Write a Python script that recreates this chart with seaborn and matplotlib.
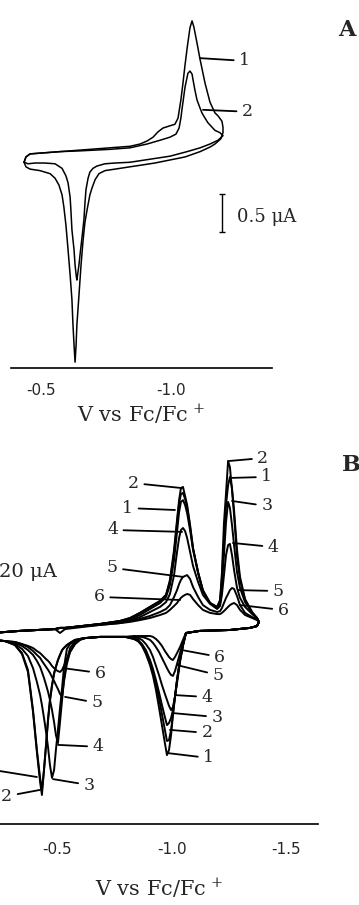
import matplotlib
matplotlib.use("Agg")
import matplotlib.pyplot as plt
import seaborn as sns

# ---------------- panel A : two scans (potential V vs Fc/Fc+, current uA) ----------------
a1_fwd_v = [-0.435, -0.442, -0.458, -0.496, -0.573, -0.650, -0.765, -0.842, -0.881, -0.908,
            -0.931, -0.950, -0.969, -0.996, -1.015, -1.027, -1.038, -1.046, -1.054, -1.062,
            -1.073, -1.081, -1.088, -1.100, -1.112, -1.131, -1.150, -1.169, -1.181, -1.196,
            -1.200, -1.200]
a1_fwd_i = [-0.03, 0.04, 0.08, 0.09, 0.11, 0.13, 0.16, 0.18, 0.21, 0.25,
            0.30, 0.37, 0.42, 0.45, 0.47, 0.55, 0.79, 1.01, 1.25, 1.47,
            1.74, 1.83, 1.75, 1.54, 1.32, 1.01, 0.76, 0.62, 0.58, 0.51,
            0.43, 0.36]
a1_rev_v = [-1.192, -1.169, -1.150, -1.112, -1.054, -0.996, -0.938, -0.881, -0.842, -0.785,
            -0.746, -0.723, -0.708, -0.696, -0.688, -0.677, -0.669, -0.662, -0.654, -0.646,
            -0.638, -0.635, -0.631, -0.627, -0.623, -0.619, -0.612, -0.604, -0.596, -0.588,
            -0.581, -0.569, -0.554, -0.535, -0.496, -0.458, -0.442, -0.435]
a1_rev_i = [0.28, 0.21, 0.17, 0.11, 0.04, 0.00, -0.04, -0.07, -0.09, -0.12,
            -0.14, -0.18, -0.26, -0.37, -0.46, -0.66, -0.82, -1.05, -1.38, -1.78,
            -2.17, -2.43, -2.66, -2.43, -2.17, -1.84, -1.51, -1.18, -0.86, -0.62,
            -0.46, -0.33, -0.24, -0.18, -0.14, -0.12, -0.09, -0.03]

a2_fwd_v = [-0.435, -0.442, -0.458, -0.496, -0.573, -0.650, -0.765, -0.842, -0.908, -0.958,
            -0.996, -1.019, -1.031, -1.038, -1.042, -1.050, -1.054, -1.062, -1.065, -1.073,
            -1.081, -1.085, -1.092, -1.100, -1.112, -1.119, -1.131, -1.142, -1.169, -1.188,
            -1.200]
a2_fwd_i = [-0.03, 0.04, 0.08, 0.09, 0.11, 0.12, 0.14, 0.16, 0.21, 0.26,
            0.30, 0.34, 0.42, 0.55, 0.66, 0.86, 0.96, 1.09, 1.14, 1.17,
            1.13, 1.05, 0.92, 0.79, 0.68, 0.62, 0.55, 0.49, 0.39, 0.36,
            0.32]
a2_rev_v = [-1.181, -1.150, -1.112, -1.062, -0.996, -0.919, -0.842, -0.785, -0.746, -0.715,
            -0.700, -0.688, -0.681, -0.673, -0.669, -0.665, -0.658, -0.650, -0.646, -0.638,
            -0.635, -0.631, -0.627, -0.619, -0.615, -0.612, -0.604, -0.596, -0.581, -0.554,
            -0.515, -0.477, -0.450, -0.435]
a2_rev_i = [0.26, 0.21, 0.16, 0.11, 0.05, 0.01, -0.03, -0.04, -0.05, -0.08,
            -0.11, -0.16, -0.24, -0.39, -0.57, -0.79, -1.01, -1.25, -1.38, -1.58,
            -1.51, -1.38, -1.18, -0.92, -0.66, -0.49, -0.30, -0.21, -0.11, -0.05,
            -0.04, -0.04, -0.05, -0.03]
a_scale = 0.5   # uA

# ---------------- panel B : scans 1-6 ----------------
b_fwd_v = [-0.214, -0.336, -0.489, -0.511, -0.533, -0.686, -0.773, -0.817, -0.860, -0.904,
           -0.948, -0.974, -0.991, -1.009, -1.022, -1.031, -1.039, -1.048, -1.057, -1.066,
           -1.079, -1.092, -1.114, -1.135, -1.166, -1.197, -1.210, -1.218, -1.227, -1.236,
           -1.245, -1.253, -1.262, -1.271, -1.284, -1.297, -1.319, -1.350, -1.371, -1.380]
b_rev_v = [-1.371, -1.341, -1.253, -1.122, -1.061, -1.048, -1.035, -1.022, -1.013, -1.004,
           -0.996, -0.987, -0.978, -0.969, -0.956, -0.943, -0.930, -0.917, -0.904, -0.886,
           -0.869, -0.852, -0.834, -0.795, -0.686, -0.620, -0.598, -0.576, -0.555, -0.541,
           -0.528, -0.520, -0.511, -0.502, -0.493, -0.485, -0.476, -0.467, -0.459, -0.450,
           -0.441, -0.432, -0.424, -0.410, -0.393, -0.371, -0.345, -0.314, -0.271, -0.214]

b1_fwd = [-1.0, -0.3, 0.3, 0.7, 0.7, 2.0, 3.0, 4.0, 5.7, 7.7,
          9.7, 11.7, 16.0, 25.7, 35.7, 42.3, 45.3, 45.7, 43.7, 41.0,
          34.3, 27.0, 19.0, 13.0, 9.0, 7.7, 9.7, 17.3, 30.0, 41.7,
          48.3, 51.0, 47.3, 40.0, 26.7, 17.7, 10.3, 6.0, 4.0, 2.7]
b2_fwd = [-1.0, -0.3, 0.3, 0.7, 0.7, 2.0, 3.0, 4.0, 5.7, 7.7,
          9.7, 11.7, 16.7, 26.7, 36.7, 43.3, 47.3, 47.7, 44.7, 41.7,
          35.0, 27.3, 19.3, 13.3, 9.0, 7.7, 10.0, 19.0, 35.7, 45.7,
          56.3, 54.3, 46.7, 38.3, 24.3, 16.7, 10.0, 5.7, 4.0, 2.7]
b3_fwd = [-1.0, -0.3, 0.3, 0.7, 0.7, 2.0, 3.0, 3.7, 5.0, 7.0,
          9.0, 11.0, 15.0, 23.3, 32.7, 39.3, 42.7, 43.3, 41.7, 39.0,
          33.3, 26.7, 19.0, 13.0, 9.0, 7.3, 9.0, 15.0, 25.0, 36.0,
          42.7, 40.7, 35.0, 28.3, 19.3, 14.0, 9.3, 5.7, 4.0, 2.7]
b4_fwd = [-1.0, -0.3, 0.3, 0.7, 0.7, 2.0, 2.7, 3.3, 4.3, 6.0,
          7.7, 9.3, 12.0, 18.3, 26.0, 30.7, 33.3, 34.0, 33.0, 30.7,
          26.0, 21.3, 16.0, 11.7, 8.7, 7.0, 8.0, 11.7, 18.3, 25.0,
          28.3, 28.7, 25.0, 20.0, 14.0, 10.7, 7.7, 5.3, 4.0, 2.7]
b5_fwd = [-1.0, -0.3, 0.3, 0.7, 0.7, 1.7, 2.3, 3.0, 3.7, 4.7,
          6.0, 7.0, 8.3, 11.0, 13.3, 15.3, 16.7, 17.7, 18.0, 18.3,
          17.0, 14.3, 11.0, 8.3, 6.7, 6.0, 6.3, 7.3, 9.0, 10.7,
          12.0, 13.3, 14.0, 13.7, 11.3, 8.3, 5.7, 4.3, 3.7, 2.7]
b6_fwd = [-1.0, -0.3, 0.3, -1.0, 0.3, 1.7, 2.3, 2.7, 3.3, 4.0,
          5.0, 5.7, 6.7, 8.0, 9.0, 10.0, 10.7, 11.3, 11.7, 12.0,
          11.7, 10.3, 8.3, 6.7, 5.7, 5.3, 5.3, 5.7, 6.3, 7.0,
          7.7, 8.3, 8.7, 9.0, 8.3, 6.7, 5.0, 4.0, 3.3, 2.7]

b1_rev = [1.3, 0.7, 0.0, -0.3, -1.0, -5.0, -10.0, -16.7, -22.3, -28.3,
          -35.0, -40.0, -41.7, -37.7, -31.7, -25.7, -20.0, -15.3, -11.7, -8.0,
          -5.3, -3.7, -3.0, -2.3, -2.3, -2.7, -3.0, -3.3, -4.3, -5.0,
          -6.0, -6.7, -8.3, -10.0, -12.3, -14.3, -18.3, -23.3, -29.3, -38.3,
          -46.7, -55.0, -50.7, -40.7, -27.3, -14.0, -8.0, -5.0, -3.7, -3.3]
b2_rev = [1.3, 0.7, 0.0, -0.3, -1.0, -5.0, -10.0, -16.7, -22.3, -28.3,
          -33.3, -36.7, -37.0, -33.3, -28.0, -22.7, -18.0, -14.0, -10.7, -7.3,
          -5.0, -3.7, -3.0, -2.3, -2.3, -2.7, -3.0, -3.3, -4.3, -5.0,
          -6.0, -6.7, -8.3, -10.0, -12.3, -14.7, -18.7, -23.7, -30.0, -38.3,
          -46.7, -53.3, -49.3, -40.0, -26.7, -13.3, -7.7, -5.0, -3.7, -3.3]
b3_rev = [1.3, 0.7, 0.0, -0.3, -1.0, -5.0, -10.0, -16.7, -22.3, -26.7,
          -29.3, -31.0, -31.7, -29.0, -25.0, -20.7, -16.7, -13.0, -10.0, -6.7,
          -4.7, -3.3, -2.7, -2.3, -2.3, -2.7, -3.0, -3.7, -4.7, -6.3,
          -12.7, -19.3, -26.0, -33.3, -40.0, -46.7, -49.3, -45.0, -39.3, -34.0,
          -29.3, -25.0, -21.7, -17.3, -12.7, -8.7, -6.3, -4.7, -3.7, -3.3]
b4_rev = [1.3, 0.7, 0.0, -0.3, -1.0, -5.3, -10.7, -17.7, -22.3, -25.7,
          -26.7, -25.3, -23.3, -21.3, -18.3, -15.0, -12.0, -9.0, -6.7, -4.7,
          -3.3, -2.7, -2.3, -2.3, -2.3, -2.7, -3.0, -4.0, -6.0, -10.0,
          -16.7, -23.3, -30.7, -37.7, -35.0, -30.7, -26.7, -23.3, -20.7, -18.3,
          -16.0, -14.0, -12.3, -10.3, -8.3, -6.7, -5.3, -4.3, -3.7, -3.3]
b5_rev = [1.3, 0.7, 0.0, -0.3, -1.0, -4.0, -7.7, -11.3, -13.7, -15.3,
          -15.0, -14.0, -12.7, -11.3, -9.3, -7.3, -5.7, -4.3, -3.3, -2.7,
          -2.3, -2.3, -2.3, -2.3, -2.3, -2.7, -3.3, -4.7, -7.3, -11.3,
          -17.3, -22.3, -21.3, -19.7, -18.3, -17.0, -15.7, -14.3, -13.3, -12.3,
          -11.3, -10.3, -9.3, -8.3, -7.0, -5.7, -4.7, -4.0, -3.7, -3.3]
b6_rev = [1.3, 0.7, 0.0, -0.3, -1.0, -3.3, -5.7, -7.7, -9.0, -10.0,
          -9.7, -9.0, -8.0, -7.0, -5.3, -4.0, -3.0, -2.3, -2.0, -2.0,
          -2.0, -2.0, -2.0, -2.3, -2.3, -2.7, -3.3, -4.7, -7.3, -9.7,
          -12.0, -13.3, -14.0, -13.7, -13.3, -12.7, -12.0, -11.0, -10.3, -9.7,
          -9.0, -8.3, -7.7, -7.0, -6.0, -5.3, -4.7, -4.0, -3.7, -3.3]
b_scale = 20   # uA

# %%
sns.set_theme(style="white")
plt.rcParams['font.family'] = ['DejaVu Serif', 'DejaVu Sans']
plt.rcParams['mathtext.fontset'] = 'dejavuserif'
plt.rcParams['axes.unicode_minus'] = False

W, H = 359, 905
fig = plt.figure(figsize=(W / 100, H / 100), dpi=100)
fig.patch.set_facecolor('white')

ax_a = fig.add_axes([11 / W, 1 - 368 / H, 261 / W, 368 / H])
ax_b = fig.add_axes([0, 1 - 824 / H, 318 / W, 384 / H])


def draw_cv(ax, fv, fi, rv, ri, lw):
    # forward + reverse sweep drawn as one closed trace
    sns.lineplot(x=list(fv) + list(rv), y=list(fi) + list(ri), sort=False,
                 estimator=None, color='black', lw=lw, ax=ax)


def tag(ax, txt, xy, off):
    ax.annotate(txt, xy=xy, xytext=off, textcoords='offset points',
                ha='center', va='center', fontsize=12.5, annotation_clip=False,
                arrowprops=dict(arrowstyle='-', lw=1.3, color='black',
                                shrinkA=1.5, shrinkB=0))


draw_cv(ax_a, a1_fwd_v, a1_fwd_i, a1_rev_v, a1_rev_i, 1.1)
draw_cv(ax_a, a2_fwd_v, a2_fwd_i, a2_rev_v, a2_rev_i, 1.1)

for fwd, rev in [(b1_fwd, b1_rev), (b2_fwd, b2_rev), (b3_fwd, b3_rev),
                 (b4_fwd, b4_rev), (b5_fwd, b5_rev), (b6_fwd, b6_rev)]:
    draw_cv(ax_b, b_fwd_v, fwd, b_rev_v, rev, 1.4)

# ---------------- axes cosmetics ----------------
ax_a.set_xlim(-0.3846, -1.3885)
ax_a.set_ylim(-2.737, 2.105)
ax_b.set_xlim(-0.2489, -1.6376)
ax_b.set_ylim(-64.67, 63.33)

for ax in (ax_a, ax_b):
    ax.patch.set_alpha(0)
    for s in ('top', 'left', 'right'):
        ax.spines[s].set_visible(False)
    ax.spines['bottom'].set_linewidth(1.2)
    ax.spines['bottom'].set_color('black')
    ax.set_yticks([])
    ax.set_ylabel('')

ax_a.set_xticks([-0.5, -1.0], ['-0.5', '-1.0'], fontfamily='DejaVu Sans')
ax_a.set_xticks([-0.5 - k / 12 for k in range(1, 10) if k != 6], minor=True)
ax_a.tick_params(axis='x', which='both', direction='in', length=3, width=0.9,
                 color='black', pad=11, labelsize=11)
ax_a.set_xlabel('V vs Fc/Fc$^{\\,+}$', fontsize=15, labelpad=3)

ax_b.set_xticks([-0.5, -1.0, -1.5], ['-0.5', '-1.0', '-1.5'], fontfamily='DejaVu Sans')
ax_b.tick_params(axis='x', which='both', direction='out', length=5, width=0.9,
                 color='black', pad=8, labelsize=11)
ax_b.set_xlabel('V vs Fc/Fc$^{\\,+}$', fontsize=15, labelpad=14)

# scale bar, panel A
ax_a.errorbar(-1.196, -0.697, yerr=a_scale / 2, fmt='none', ecolor='black',
              elinewidth=1.0, capsize=2.5, capthick=1.0)
fig.text(237 / W, 1 - 217 / H, f'{a_scale} μA', ha='left', va='center', fontsize=13)
fig.text(-1 / W, 1 - 572 / H, f'{b_scale} μA', ha='left', va='center', fontsize=14)

fig.text(347 / W, 1 - 30 / H, 'A', ha='center', va='center', fontsize=16, fontweight='bold')
fig.text(351 / W, 1 - 465 / H, 'B', ha='center', va='center', fontsize=16, fontweight='bold')

# curve labels, panel A
tag(ax_a, '1', (-1.112, 1.34), (32, -2))
tag(ax_a, '2', (-1.123, 0.66), (32, -1.4))

# curve labels, panel B
for txt, xy, off in [
        ('2', (-1.044, 47.3), (-35, 3.6)), ('1', (-1.013, 40.0), (-34, 1.4)),
        ('4', (-1.044, 32.7), (-50, 1.4)), ('5', (-1.048, 17.7), (-51, 6.5)),
        ('6', (-1.035, 10.0), (-58, 2.2)),
        ('2', (-1.245, 56.3), (25, 2.2)), ('1', (-1.262, 50.7), (25, 0.7)),
        ('3', (-1.262, 43.0), (25, -3.6)), ('4', (-1.266, 29.0), (29, -2.9)),
        ('5', (-1.288, 13.3), (29, -0.7)), ('6', (-1.297, 8.3), (31, -3.6)),
        ('6', (-1.044, -6.7), (27, -5.0)), ('5', (-1.022, -11.7), (29.5, -7.2)),
        ('4', (-1.013, -21.7), (23, -1.4)), ('3', (-1.004, -27.7), (31.7, -2.9)),
        ('2', (-0.991, -33.3), (26.6, -2.2)), ('1', (-0.978, -41.0), (30, -3.6)),
        ('6', (-0.524, -12.7), (26.6, -3.6)), ('5', (-0.533, -22.3), (23, -4.3)),
        ('4', (-0.502, -38.3), (28.8, -1.4)), ('3', (-0.480, -49.7), (26, -4.3)),
        ('', (-0.410, -49.0), (-28, 4.5)), ('2', (-0.424, -53.3), (-24, -4.5))]:
    tag(ax_b, txt, xy, off)

fig.savefig('out.png', dpi=100, facecolor='white')
